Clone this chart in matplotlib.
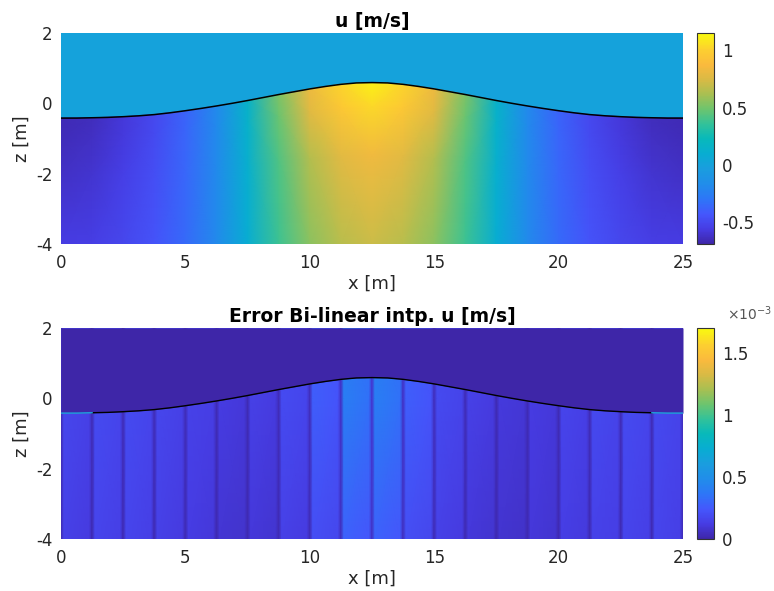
import numpy as np
import matplotlib
matplotlib.use("Agg")
import matplotlib.pyplot as plt
from matplotlib.colors import LinearSegmentedColormap, Normalize
from matplotlib.ticker import FuncFormatter

# ---------------- data ----------------
# surface elevation eta [m] at x = 0:0.625:25
x_fine = [0.0, 0.625, 1.25, 1.875, 2.5, 3.125, 3.75, 4.375, 5.0, 5.625, 6.25,
          6.875, 7.5, 8.125, 8.75, 9.375, 10.0, 10.625, 11.25, 11.875, 12.5,
          13.125, 13.75, 14.375, 15.0, 15.625, 16.25, 16.875, 17.5, 18.125, 18.75,
          19.375, 20.0, 20.625, 21.25, 21.875, 22.5, 23.125, 23.75, 24.375, 25.0]
eta = [-0.42, -0.42, -0.41, -0.40, -0.38, -0.355, -0.32, -0.27, -0.21, -0.145, -0.075,
       0.0, 0.08, 0.165, 0.25, 0.33, 0.41, 0.48, 0.54, 0.58, 0.59,
       0.58, 0.54, 0.48, 0.41, 0.33, 0.25, 0.165, 0.08, 0.0, -0.075,
       -0.145, -0.21, -0.27, -0.32, -0.355, -0.38, -0.40, -0.41, -0.42, -0.42]
z_bottom = -4.0
z_top = 2.0

# velocity u [m/s] at x = 0:1.25:25, on levels from the surface (0) to the bed (1)
x_nodes = [0.0, 1.25, 2.5, 3.75, 5.0, 6.25, 7.5, 8.75, 10.0, 11.25, 12.5,
           13.75, 15.0, 16.25, 17.5, 18.75, 20.0, 21.25, 22.5, 23.75, 25.0]
sigma_levels = [0.0, 0.15, 0.45, 1.0]
u_surface = [-0.66, -0.64, -0.58, -0.50, -0.38, -0.18, 0.15, 0.52, 0.82, 1.02, 1.12,
             1.02, 0.82, 0.52, 0.15, -0.18, -0.38, -0.50, -0.58, -0.64, -0.66]
u_upper = [-0.65, -0.63, -0.57, -0.49, -0.37, -0.18, 0.14, 0.48, 0.77, 0.95, 1.03,
           0.95, 0.77, 0.48, 0.14, -0.18, -0.37, -0.49, -0.57, -0.63, -0.65]
u_lower = [-0.62, -0.60, -0.54, -0.47, -0.36, -0.18, 0.12, 0.42, 0.64, 0.78, 0.84,
           0.78, 0.64, 0.42, 0.12, -0.18, -0.36, -0.47, -0.54, -0.60, -0.62]
u_bed = [-0.56, -0.55, -0.51, -0.45, -0.35, -0.18, 0.10, 0.38, 0.55, 0.66, 0.71,
         0.66, 0.55, 0.38, 0.10, -0.18, -0.35, -0.45, -0.51, -0.55, -0.56]
u_clim = [-0.69, 1.15]
u_ticks = [-0.5, 0, 0.5, 1]

# bi-linear interpolation error [1e-3 m/s]: low on grid nodes, near-flat inside each cell
err_node = [0.03, 0.03, 0.03, 0.03, 0.03, 0.02, 0.02, 0.03, 0.04, 0.06, 0.08,
            0.06, 0.04, 0.03, 0.02, 0.02, 0.02, 0.03, 0.03, 0.03, 0.03]
err_cell_surface = [0.17, 0.19, 0.19, 0.17, 0.15, 0.12, 0.14, 0.19, 0.27, 0.40,
                    0.40, 0.27, 0.18, 0.14, 0.11, 0.12, 0.16, 0.18, 0.19, 0.18]
err_cell_bed = [0.14, 0.16, 0.16, 0.14, 0.12, 0.09, 0.10, 0.14, 0.20, 0.28,
                0.28, 0.20, 0.14, 0.10, 0.08, 0.10, 0.13, 0.15, 0.16, 0.16]
err_clim = [0.0, 1.7]
err_ticks = [0, 0.5, 1, 1.5]

x_ticks = [0, 5, 10, 15, 20, 25]
z_ticks = [-4, -2, 0, 2]

# ---------------- colormap (parula-like) ----------------
parula_anchors = [
    (0.00, (0.2422, 0.1504, 0.6603)),
    (0.07, (0.2750, 0.2350, 0.8900)),
    (0.14, (0.2700, 0.3400, 0.9900)),
    (0.21, (0.1800, 0.4600, 0.9700)),
    (0.28, (0.1300, 0.5500, 0.9200)),
    (0.36, (0.1000, 0.6200, 0.8700)),
    (0.43, (0.0300, 0.6800, 0.8200)),
    (0.50, (0.0300, 0.7250, 0.7300)),
    (0.57, (0.2000, 0.7600, 0.6000)),
    (0.64, (0.4300, 0.7700, 0.4300)),
    (0.71, (0.6600, 0.7500, 0.3200)),
    (0.78, (0.8500, 0.7300, 0.2700)),
    (0.85, (0.9800, 0.7300, 0.2400)),
    (0.92, (0.9900, 0.8100, 0.1900)),
    (1.00, (0.9763, 0.9831, 0.0538)),
]
parula = LinearSegmentedColormap.from_list("parula", parula_anchors, N=256)

plt.rcParams['font.family'] = ['DejaVu Sans']
plt.rcParams['axes.unicode_minus'] = False
tc = '#262626'
FS_TICK = 12
FS_LAB = 13
FS_TITLE = 13.5

fig = plt.figure(figsize=(7.74, 5.91), dpi=100)
W, H = 774, 591


def frac(l, t, r, b):
    return [l / W, 1 - b / H, (r - l) / W, (b - t) / H]


gfmt = FuncFormatter(lambda v, p: f'{v:g}')


def style(ax, title):
    ax.set_xlim(0, 25)
    ax.set_ylim(z_bottom, z_top)
    ax.set_xticks(x_ticks)
    ax.set_yticks(z_ticks)
    ax.xaxis.set_major_formatter(gfmt)
    ax.yaxis.set_major_formatter(gfmt)
    ax.tick_params(length=0, labelsize=FS_TICK, colors=tc)
    ax.tick_params(axis='x', pad=7)
    ax.tick_params(axis='y', pad=6)
    for s in ax.spines.values():
        s.set_visible(False)
    ax.set_xlabel('x [m]', fontsize=FS_LAB, color=tc, labelpad=2)
    ax.set_ylabel('z [m]', fontsize=FS_LAB, color=tc, labelpad=4)
    ax.set_title(title, fontsize=FS_TITLE, fontweight='bold', color='black', pad=4)


def style_cb(cb, ticks):
    cb.set_ticks(ticks)
    cb.ax.yaxis.set_major_formatter(gfmt)
    cb.ax.tick_params(length=0, labelsize=FS_TICK, colors=tc, pad=6)
    cb.outline.set_edgecolor('#333333')
    cb.outline.set_linewidth(0.8)


xe = np.array(x_fine)
ee = np.array(eta)

# ---------- top panel: u ----------
ax1 = fig.add_axes(frac(61, 33, 683, 244))
norm1 = Normalize(*u_clim)
ax1.set_facecolor(parula(norm1(0.0)))
xn = np.array(x_nodes)
eta_n = ee[::2]
sig = np.array(sigma_levels)[:, None]
X1 = np.tile(xn, (len(sigma_levels), 1))
Z1 = eta_n[None, :] + sig * (z_bottom - eta_n[None, :])
U = np.array([u_surface, u_upper, u_lower, u_bed])
ax1.pcolormesh(X1, Z1, U, cmap=parula, norm=norm1, shading='gouraud', zorder=1)
ax1.plot(xe, ee, color='black', lw=1.1, zorder=3)
style(ax1, 'u [m/s]')
cax1 = fig.add_axes(frac(697, 33, 714, 244))
sm1 = plt.cm.ScalarMappable(norm=norm1, cmap=parula)
cb1 = fig.colorbar(sm1, cax=cax1)
style_cb(cb1, u_ticks)

# ---------- bottom panel: error ----------
ax2 = fig.add_axes(frac(61, 328, 683, 539))
norm2 = Normalize(*err_clim)
bg2 = parula(0.0)
ax2.set_facecolor(bg2)
edge = 0.12  # width of the dark seam at each grid node [m]
xs, vs, vb = [], [], []
for i in range(len(x_nodes) - 1):
    xs += [x_nodes[i], x_nodes[i] + edge, x_nodes[i + 1] - edge]
    vs += [err_node[i], err_cell_surface[i], err_cell_surface[i] * 0.85]
    vb += [err_node[i] * 0.8, err_cell_bed[i], err_cell_bed[i] * 0.85]
xs.append(x_nodes[-1])
vs.append(err_node[-1])
vb.append(err_node[-1] * 0.8)
xs = np.array(xs)
X2 = np.tile(xs, (3, 1))
Z2 = np.vstack([np.full_like(xs, z_bottom), np.zeros_like(xs), np.full_like(xs, z_top)])
E = np.vstack([vb, vs, vs])
ax2.pcolormesh(X2, Z2, E, cmap=parula, norm=norm2, shading='gouraud', zorder=1)
ax2.fill_between(xe, ee, z_top, color=bg2, lw=0, zorder=2)
ax2.plot(xe[2:39], ee[2:39], color='black', lw=1.0, zorder=3)
ax2.plot(xe[:3], ee[:3], color='#1ea5e0', lw=1.0, zorder=3)
ax2.plot(xe[38:], ee[38:], color='#1ea5e0', lw=1.0, zorder=3)
style(ax2, 'Error Bi-linear intp. u [m/s]')
cax2 = fig.add_axes(frac(697, 328, 714, 539))
sm2 = plt.cm.ScalarMappable(norm=norm2, cmap=parula)
cb2 = fig.colorbar(sm2, cax=cax2)
style_cb(cb2, err_ticks)
fig.text(727 / W, 1 - 314 / H, r'$\times10^{-3}$', fontsize=10, color='#555555',
         ha='left', va='center')

fig.savefig('out.png', dpi=100)
